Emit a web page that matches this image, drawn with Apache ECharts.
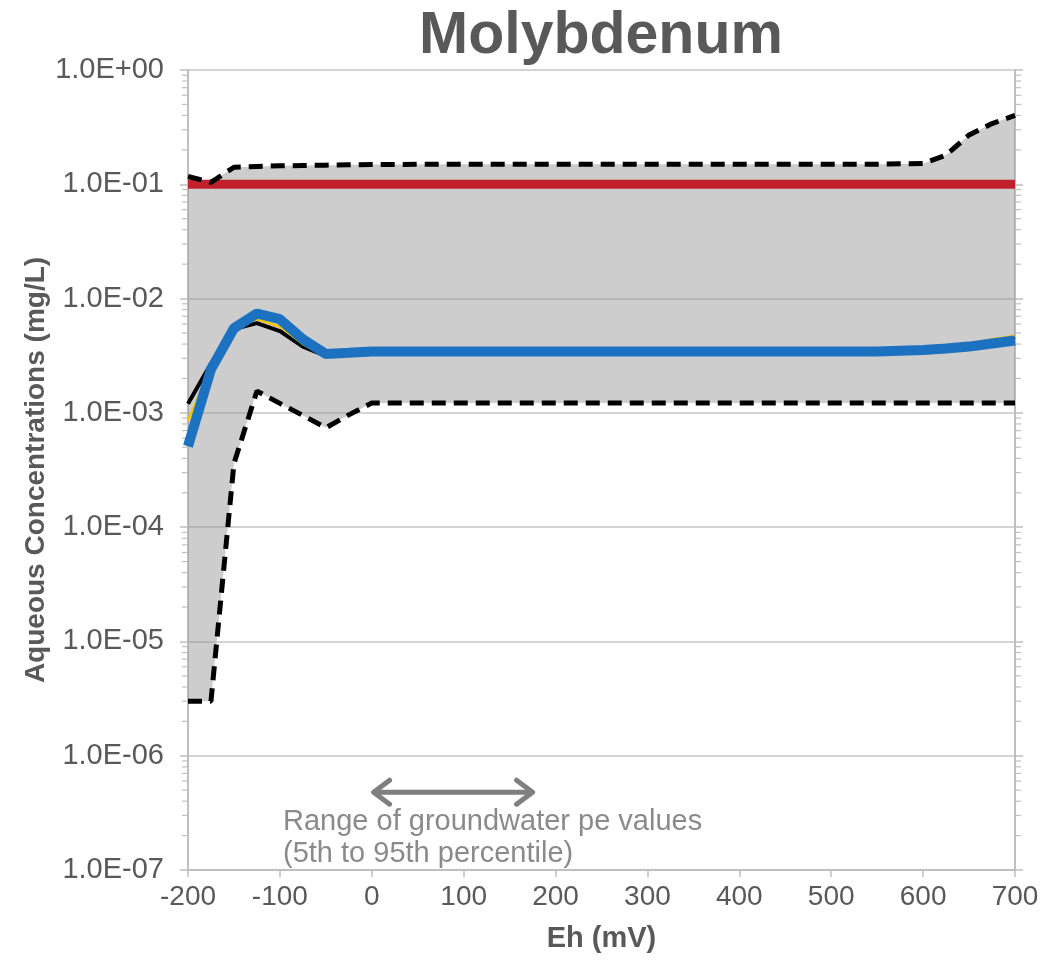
<!DOCTYPE html>
<html>
<head>
<meta charset="utf-8">
<title>Molybdenum</title>
<script src="https://cdn.jsdelivr.net/npm/echarts@6/dist/echarts.min.js"></script>
<style>
  html, body { margin: 0; padding: 0; background: #ffffff; }
  #chart { width: 1046px; height: 963px; }
</style>
</head>
<body>
<div id="chart"></div>
<script>
// Eh grid (mV) shared by all curves
const eh = [-200, -175, -150, -125, -100, -75, -50, -25, 0, 100, 200, 300, 400, 500, 550, 600, 625, 650, 675, 700];

// 95th percentile envelope (mg/L)
const upper95 = [0.117, 0.104, 0.141, 0.143, 0.145, 0.146, 0.147, 0.148, 0.149, 0.15, 0.15, 0.15, 0.15, 0.15, 0.15, 0.152, 0.18, 0.27, 0.34, 0.40];
// 5th percentile envelope (mg/L)
const lower5 = [3e-6, 3e-6, 3.6e-4, 1.55e-3, 1.21e-3, 9.5e-4, 7.4e-4, 9.6e-4, 1.22e-3, 1.22e-3, 1.22e-3, 1.22e-3, 1.22e-3, 1.22e-3, 1.22e-3, 1.22e-3, 1.22e-3, 1.22e-3, 1.22e-3, 1.22e-3];

// Median model curves (mg/L)
const curveBlack = [1.2e-3, 2.7e-3, 5.4e-3, 6.1e-3, 5.2e-3, 3.8e-3, 3.15e-3, 3.35e-3, 3.45e-3, 3.45e-3, 3.45e-3, 3.45e-3, 3.45e-3, 3.45e-3, 3.45e-3, 3.55e-3, 3.7e-3, 3.95e-3, 4.3e-3, 4.6e-3];
const curveYellow = [8.5e-4, 2.5e-3, 5.5e-3, 6.6e-3, 5.7e-3, 4.0e-3, 3.15e-3, 3.35e-3, 3.45e-3, 3.45e-3, 3.45e-3, 3.45e-3, 3.45e-3, 3.45e-3, 3.45e-3, 3.55e-3, 3.7e-3, 4.0e-3, 4.4e-3, 4.7e-3];
const curveBlue = [5.1e-4, 2.4e-3, 5.5e-3, 7.4e-3, 6.6e-3, 4.4e-3, 3.27e-3, 3.35e-3, 3.45e-3, 3.45e-3, 3.45e-3, 3.45e-3, 3.45e-3, 3.45e-3, 3.45e-3, 3.55e-3, 3.65e-3, 3.8e-3, 4.05e-3, 4.3e-3];

// Drinking-water screening level (mg/L)
const screeningLevel = 0.1;
const ehExtent = [-200, 700];

// Groundwater pe range arrow: Eh span and plotting level
const peRange = [2, 175];
const peArrowLevel = 4.8e-7;

// Log-axis decades and minor tick multipliers
const decades = [-7, -6, -5, -4, -3, -2, -1];
const minorMultipliers = [2, 3, 4, 5, 6, 7, 8, 9];

const FONT = '"Liberation Sans", Arial, sans-serif';
const TEXT = '#595959';
const AXIS = '#bfbfbf';

function expLabel(v) {
  const e = Math.round(Math.log10(v));
  const sign = e < 0 ? '-' : '+';
  const a = Math.abs(e);
  return '1.0E' + sign + (a < 10 ? '0' + a : '' + a);
}

const minorValues = [];
decades.forEach(function (d) {
  minorMultipliers.forEach(function (m) { minorValues.push([ehExtent[0], m * Math.pow(10, d)]); });
});

const chart = echarts.init(document.getElementById('chart'), null, { renderer: 'canvas' });

const lineSeries = function (name, values, color, width, z) {
  return {
    name: name,
    type: 'line',
    data: eh.map(function (x, i) { return [x, values[i]]; }),
    symbol: 'none',
    lineStyle: { color: color, width: width },
    z: z,
    silent: true,
    animation: false
  };
};

chart.setOption({
  animation: false,
  title: {
    text: 'Molybdenum',
    left: 596,
    textAlign: 'center',
    top: 2,
    textStyle: { fontFamily: FONT, fontSize: 59, fontWeight: 'bold', color: TEXT }
  },
  grid: { left: 188, right: 31, top: 70, bottom: 93, containLabel: false },
  xAxis: {
    type: 'value',
    min: ehExtent[0],
    max: ehExtent[1],
    interval: 100,
    name: 'Eh (mV)',
    nameLocation: 'middle',
    nameGap: 54,
    nameTextStyle: { fontFamily: FONT, fontSize: 29, fontWeight: 'bold', color: TEXT },
    axisLine: { show: true, onZero: false, lineStyle: { color: AXIS, width: 2 } },
    axisTick: { show: true, inside: false, length: 7, lineStyle: { color: AXIS, width: 1.5 } },
    axisLabel: { margin: 13, fontFamily: FONT, fontSize: 28, color: TEXT },
    splitLine: { show: false }
  },
  yAxis: [
    {
      type: 'log',
      logBase: 10,
      min: 1e-7,
      max: 1,
      splitNumber: 7,
      name: 'Aqueous Concentrations (mg/L)',
      nameLocation: 'middle',
      nameGap: 138,
      nameMoveOverlap: false,
      nameTextStyle: { fontFamily: FONT, fontSize: 28, fontWeight: 'bold', color: TEXT },
      axisLine: { show: true, onZero: false, lineStyle: { color: AXIS, width: 2 } },
      axisTick: { show: true, inside: false, length: 8, lineStyle: { color: AXIS, width: 1.5 } },
      axisLabel: { margin: 24, fontFamily: FONT, fontSize: 29, color: TEXT, formatter: expLabel },
      splitLine: { show: true, lineStyle: { color: '#d4d4d4', width: 2 } }
    },
    {
      type: 'log',
      logBase: 10,
      min: 1e-7,
      max: 1,
      splitNumber: 7,
      position: 'right',
      axisLine: { show: true, onZero: false, lineStyle: { color: AXIS, width: 2 } },
      axisTick: { show: true, inside: false, length: 8, lineStyle: { color: AXIS, width: 1.5 } },
      axisLabel: { show: false },
      splitLine: { show: false }
    }
  ],
  series: [
    {
      // shaded band between the 5th and 95th percentile envelopes
      name: 'band',
      type: 'custom',
      silent: true,
      z: 1,
      data: [[eh[0], upper95[0]]],
      renderItem: function (params, api) {
        const pts = [];
        for (let i = 0; i < eh.length; i++) pts.push(api.coord([eh[i], upper95[i]]));
        for (let i = eh.length - 1; i >= 0; i--) pts.push(api.coord([eh[i], lower5[i]]));
        return { type: 'polygon', shape: { points: pts }, style: { fill: 'rgba(150,150,150,0.48)' } };
      }
    },
    {
      // log-spaced minor ticks on both vertical axes
      name: 'minorTicks',
      type: 'custom',
      silent: true,
      z: 2,
      data: minorValues,
      renderItem: function (params, api) {
        const v = api.value(1);
        const l = api.coord([ehExtent[0], v]);
        const r = api.coord([ehExtent[1], v]);
        const st = { stroke: AXIS, lineWidth: 1.2 };
        return {
          type: 'group',
          children: [
            { type: 'line', shape: { x1: l[0] - 6, y1: l[1], x2: l[0], y2: l[1] }, style: st },
            { type: 'line', shape: { x1: r[0], y1: r[1], x2: r[0] + 6, y2: r[1] }, style: st }
          ]
        };
      }
    },
    {
      name: 'screening',
      type: 'line',
      data: [[ehExtent[0], screeningLevel], [ehExtent[1], screeningLevel]],
      symbol: 'none',
      lineStyle: { color: '#c0212b', width: 9 },
      z: 3,
      silent: true
    },
    {
      name: 'p95',
      type: 'line',
      data: eh.map(function (x, i) { return [x, upper95[i]]; }),
      symbol: 'none',
      lineStyle: { color: '#000000', width: 5, type: [14, 8] },
      z: 4,
      silent: true
    },
    {
      name: 'p5',
      type: 'line',
      data: eh.map(function (x, i) { return [x, lower5[i]]; }),
      symbol: 'none',
      lineStyle: { color: '#000000', width: 5, type: [14, 8] },
      z: 4,
      silent: true
    },
    lineSeries('black', curveBlack, '#000000', 4, 5),
    lineSeries('yellow', curveYellow, '#f2c500', 2.5, 6),
    lineSeries('blue', curveBlue, '#1c72c0', 10, 7),
    {
      // double-headed arrow marking the groundwater pe range
      name: 'peRange',
      type: 'custom',
      silent: true,
      z: 8,
      data: [[peRange[0], peArrowLevel, peRange[1]]],
      renderItem: function (params, api) {
        const a = api.coord([api.value(0), api.value(1)]);
        const b = api.coord([api.value(2), api.value(1)]);
        const h = 16;
        const st = { stroke: '#7f7f7f', lineWidth: 5, lineCap: 'round', lineJoin: 'round', fill: null };
        return {
          type: 'group',
          children: [
            { type: 'line', shape: { x1: a[0] + 2, y1: a[1], x2: b[0] - 2, y2: b[1] }, style: st },
            { type: 'polyline', shape: { points: [[a[0] + h, a[1] - h * 0.75], [a[0], a[1]], [a[0] + h, a[1] + h * 0.75]] }, style: st },
            { type: 'polyline', shape: { points: [[b[0] - h, b[1] - h * 0.75], [b[0], b[1]], [b[0] - h, b[1] + h * 0.75]] }, style: st }
          ]
        };
      }
    }
  ],
  graphic: [
    {
      type: 'text',
      left: 283,
      top: 806,
      z: 10,
      style: {
        text: 'Range of groundwater pe values\n(5th to 95th percentile)',
        font: '29px ' + FONT,
        fill: '#8a8a8a',
        lineHeight: 32
      }
    }
  ]
});
</script>
</body>
</html>
